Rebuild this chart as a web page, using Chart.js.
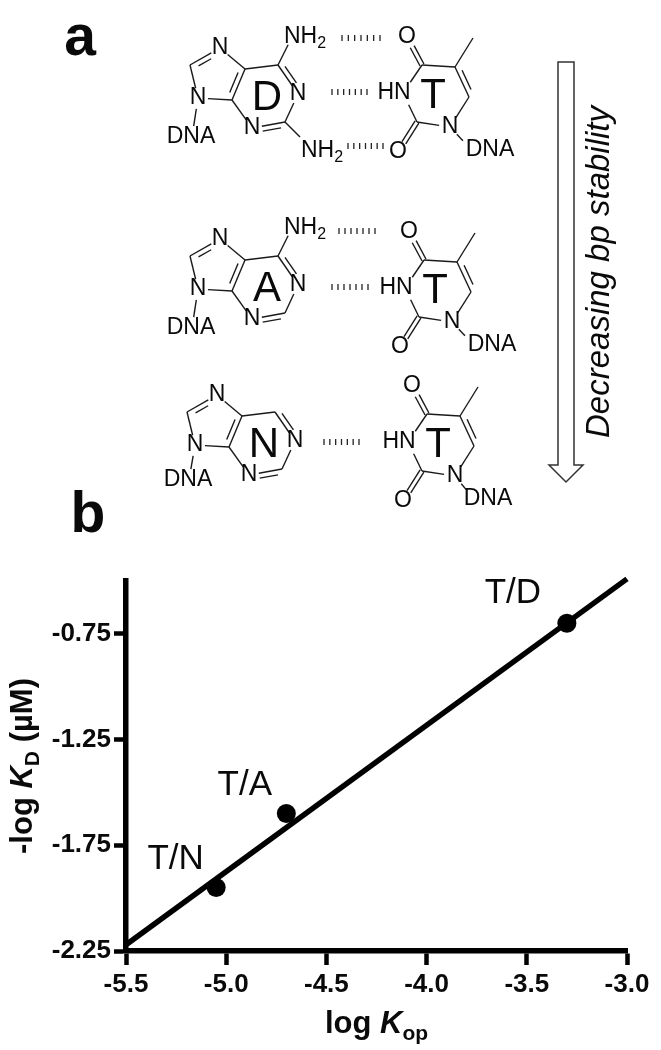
<!DOCTYPE html>
<html><head><meta charset="utf-8">
<style>html,body{margin:0;padding:0;background:#fff}canvas{display:block}</style>
<script src="https://cdn.jsdelivr.net/npm/chart.js@4"></script>
</head><body><canvas id="c" width="661" height="1050"></canvas>
<script>
const pairLabels = ['T/N','T/A','T/D'];
const logKop = [-5.05,-4.70,-3.30];
const logKd = [-1.95,-1.60,-0.70];
const fitX = [-5.5,-3.0];
const fitY = [-2.22,-0.49];
const xTicks = [-5.5,-5.0,-4.5,-4.0,-3.5,-3.0];
const yTicks = [-2.25,-1.75,-1.25,-0.75];

const SANS = '"Liberation Sans", Arial, sans-serif';
const INK = '#0a0a0a';

function txt(ctx,s,x,y,font,align){
  ctx.font=font; ctx.textAlign=align||'center'; ctx.textBaseline='middle'; ctx.fillStyle=INK; ctx.fillText(s,x,y);
}
function runs(ctx,list,x,y){
  ctx.textAlign='left'; ctx.textBaseline='alphabetic'; ctx.fillStyle=INK;
  let w=0; list.forEach(r=>{ctx.font=r[1]; w+=ctx.measureText(r[0]).width;});
  let cx=x-w/2;
  list.forEach(r=>{ctx.font=r[1]; ctx.fillText(r[0],cx,y+(r[2]||0)); cx+=ctx.measureText(r[0]).width;});
}
function seg(ctx,a,b,trimA,trimB,off){
  const dx=b[0]-a[0],dy=b[1]-a[1],L=Math.hypot(dx,dy),ux=dx/L,uy=dy/L;
  const nx=-uy*(off||0),ny=ux*(off||0);
  ctx.beginPath();
  ctx.moveTo(a[0]+ux*trimA+nx,a[1]+uy*trimA+ny);
  ctx.lineTo(b[0]-ux*trimB+nx,b[1]-uy*trimB+ny);
  ctx.stroke();
}
function shift(o,dx,dy){const r={};for(const k in o)r[k]=[o[k][0]+dx,o[k][1]+dy];return r;}
const ATOM_FONT='23px '+SANS, LETTER_FONT='42px '+SANS, SUB_FONT='16px '+SANS;

const PUR={N7:[220,48],C8:[190,65],N9:[198,98],C4:[232,100],C5:[245,69],C6:[278,65],N1:[298,94],C2:[285,122],N3:[252,128]};
const THY={O4:[407,37],C4:[422,65],C5:[455,67],Me:[473,38],C6:[469,97],N1:[450,127],C2:[417,122],N3:[403,93],O2:[398,152]};

function purine(ctx,dx,dy,letter,o){
  const p=shift(PUR,dx,dy),t=10;
  ctx.lineWidth=1.4; ctx.strokeStyle='#1a1a1a';
  seg(ctx,p.N7,p.C8,t,0); seg(ctx,p.N7,p.C8,t+3,7,-5);
  seg(ctx,p.C8,p.N9,0,t); seg(ctx,p.N9,p.C4,t,0);
  seg(ctx,p.C4,p.C5,0,0); seg(ctx,p.C4,p.C5,6,6,-5);
  seg(ctx,p.C5,p.N7,0,t); seg(ctx,p.C5,p.C6,0,0);
  seg(ctx,p.C6,p.N1,0,t); seg(ctx,p.C6,p.N1,5,t,-5);
  seg(ctx,p.N1,p.C2,t,0); seg(ctx,p.C2,p.N3,0,t); seg(ctx,p.C2,p.N3,5,t,-5);
  seg(ctx,p.N3,p.C4,t,0);
  txt(ctx,'N',p.N7[0],p.N7[1],ATOM_FONT); txt(ctx,'N',p.N9[0],p.N9[1],ATOM_FONT);
  txt(ctx,'N',p.N1[0],p.N1[1],ATOM_FONT); txt(ctx,'N',p.N3[0],p.N3[1],ATOM_FONT);
  const d=[p.N9[0]-7,p.N9[1]+39];
  seg(ctx,p.N9,[d[0]+1,d[1]+(o.dnaDy||0)],11,11);
  txt(ctx,'DNA',d[0],d[1]+(o.dnaDy||0),ATOM_FONT);
  txt(ctx,letter,p.C6[0]-11,p.C6[1]+33,LETTER_FONT);
  if(o.top){
    seg(ctx,p.C6,[p.C6[0]+11,p.C6[1]-22],0,2);
    runs(ctx,[['NH',ATOM_FONT],['2',SUB_FONT,5]],p.C6[0]+27,p.C6[1]-22);
  }
  if(o.bottom){
    seg(ctx,p.C2,[p.C2[0]+15,p.C2[1]+15],0,0);
    runs(ctx,[['NH',ATOM_FONT],['2',SUB_FONT,5]],p.C2[0]+37,p.C2[1]+35);
  }
}
function thymine(ctx,dx,dy,o){
  const p=shift(THY,dx,dy),t=11;
  ctx.lineWidth=1.4; ctx.strokeStyle='#1a1a1a';
  seg(ctx,p.C4,p.O4,0,t,2.2); seg(ctx,p.C4,p.O4,0,t,-2.2);
  seg(ctx,p.C4,p.C5,0,0); seg(ctx,p.C5,p.Me,0,0);
  seg(ctx,p.C5,p.C6,0,0); seg(ctx,p.C5,p.C6,6,6,-5);
  seg(ctx,p.C6,p.N1,0,t); seg(ctx,p.N1,p.C2,t,0);
  seg(ctx,p.C2,p.N3,0,13); seg(ctx,p.N3,p.C4,13,0);
  seg(ctx,p.C2,p.O2,0,t,2.2); seg(ctx,p.C2,p.O2,0,t,-2.2);
  txt(ctx,'O',p.O4[0],p.O4[1],ATOM_FONT); txt(ctx,'O',p.O2[0],p.O2[1],ATOM_FONT);
  txt(ctx,'HN',p.N3[0]-9,p.N3[1],ATOM_FONT); txt(ctx,'N',p.N1[0],p.N1[1],ATOM_FONT);
  const d=[p.N1[0]+40+(o.dnaDx||0),p.N1[1]+23];
  seg(ctx,p.N1,[d[0]-25+(o.dnaDx?5:0),d[1]-7],10,3);
  txt(ctx,'DNA',d[0],d[1],ATOM_FONT);
  txt(ctx,'T',p.C4[0]+11,p.C4[1]+31,LETTER_FONT);
}
function hbond(ctx,x0,x1,y){
  ctx.lineWidth=1.3; ctx.strokeStyle='#222';
  const n=7;
  for(let i=0;i<n;i++){const x=x0+(x1-x0)*i/(n-1);
    ctx.beginPath();ctx.moveTo(x,y-3);ctx.lineTo(x,y+3);ctx.stroke();}
}
const diagram={id:'diagram',beforeDraw(chart){
  const ctx=chart.ctx; ctx.save();
  ctx.fillStyle='#fff'; ctx.fillRect(0,0,chart.width,chart.height);
  runs(ctx,[['a','bold 57px '+SANS]],80,55);
  runs(ctx,[['b','bold 57px '+SANS]],88,532);

  purine(ctx,0,0,'D',{top:true,bottom:true}); thymine(ctx,0,0,{});
  hbond(ctx,342,380,38); hbond(ctx,332,367,92); hbond(ctx,348,383,146);

  purine(ctx,0,191,'A',{top:true}); thymine(ctx,2,195,{});
  hbond(ctx,339,375,231); hbond(ctx,332,368,287);

  purine(ctx,-3,347,'N',{dnaDy:-4}); thymine(ctx,5,349,{dnaDx:-7});
  hbond(ctx,324,359,442);

  ctx.lineWidth=1.5; ctx.strokeStyle='#333'; ctx.beginPath();
  ctx.moveTo(558,62);ctx.lineTo(574,62);ctx.lineTo(574,465);ctx.lineTo(583,465);
  ctx.lineTo(566,482);ctx.lineTo(549,465);ctx.lineTo(558,465);ctx.closePath();ctx.stroke();

  ctx.translate(600,272); ctx.rotate(-Math.PI/2);
  txt(ctx,'Decreasing bp stability',0,0,'italic 33px '+SANS);
  ctx.restore();
},afterDraw(chart){
  const ctx=chart.ctx,sx=chart.scales.x,sy=chart.scales.y;
  ctx.save();
  const off=[[-40.5,-28],[-41.5,-28],[-54,-29.5]];
  pairLabels.forEach((s,i)=>{
    txt(ctx,s,sx.getPixelForValue(logKop[i])+off[i][0],sy.getPixelForValue(logKd[i])+off[i][1],'35px '+SANS);
  });
  const B='bold 31px '+SANS,BI='italic bold 31px '+SANS,BS='bold 21px '+SANS;
  runs(ctx,[['log ',B],['K',BI],['op',BS,7]],376.5,1033);
  ctx.translate(32,766); ctx.rotate(-Math.PI/2);
  runs(ctx,[['-log ',B],['K',BI],['D',BS,7],[' (',B],['\u00b5',B],['M)',B]],0,0);
  ctx.restore();
}};

new Chart(document.getElementById('c'),{
  type:'scatter',
  plugins:[diagram],
  data:{datasets:[
    {label:'Fit',data:fitX.map((x,i)=>({x,y:fitY[i]})),showLine:true,pointRadius:0,borderColor:'#000',borderWidth:5.5,clip:false,order:2},
    {label:'Base pairs',data:logKop.map((x,i)=>({x,y:logKd[i]})),pointRadius:9.5,pointBackgroundColor:'#000',pointBorderColor:'#000',pointBorderWidth:0,order:1}
  ]},
  options:{
    responsive:false,animation:false,devicePixelRatio:1,
    layout:{padding:{top:581,right:34,left:0,bottom:0},autoPadding:false},
    plugins:{legend:{display:false},tooltip:{enabled:false},title:{display:false}},
    scales:{
      x:{type:'linear',min:-5.5,max:-3.0,
        afterBuildTicks(a){a.ticks=xTicks.map(v=>({value:v}));},
        afterFit(a){a.height=99;},
        grid:{drawOnChartArea:false,drawTicks:true,tickLength:14,tickWidth:4.5,tickColor:'#000'},
        border:{display:true,color:'#000',width:5.5},
        ticks:{color:INK,font:{family:SANS,size:26,weight:'bold'},padding:4,maxRotation:0,autoSkip:false,callback:v=>v.toFixed(1)}},
      y:{type:'linear',min:-2.25,max:-0.5,
        afterBuildTicks(a){a.ticks=yTicks.map(v=>({value:v}));},
        afterFit(a){a.width=126;},
        grid:{drawOnChartArea:false,drawTicks:true,tickLength:12,tickWidth:4.5,tickColor:'#000'},
        border:{display:true,color:'#000',width:5.5},
        ticks:{color:INK,font:{family:SANS,size:26,weight:'bold'},padding:3,autoSkip:false,callback:v=>v.toFixed(2)}}
    }
  }
});
</script></body></html>
